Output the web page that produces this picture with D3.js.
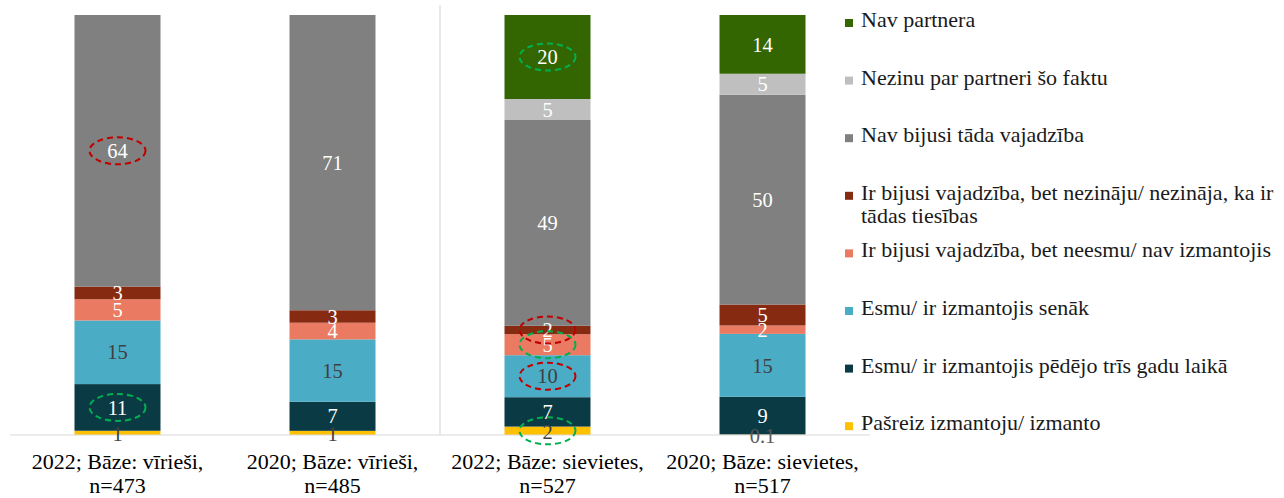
<!DOCTYPE html>
<html>
<head>
<meta charset="utf-8">
<script src="https://cdn.jsdelivr.net/npm/d3@7/dist/d3.min.js"></script>
<style>
  html, body { margin: 0; padding: 0; background: #fff; }
  svg { display: block; font-family: "Liberation Serif", "Times New Roman", "DejaVu Serif", serif; }
</style>
</head>
<body>
<svg id="chart" width="1284" height="498"></svg>
<script>
// ---- data ----
const categories = ["2022; Bāze: vīrieši,|n=473", "2020; Bāze: vīrieši,|n=485", "2022; Bāze: sievietes,|n=527", "2020; Bāze: sievietes,|n=517"];
const seriesNames = [
  "Pašreiz izmantoju/ izmanto",
  "Esmu/ ir izmantojis pēdējo trīs gadu laikā",
  "Esmu/ ir izmantojis senāk",
  "Ir bijusi vajadzība, bet neesmu/ nav izmantojis",
  "Ir bijusi vajadzība, bet nezināju/ nezināja, ka ir tādas tiesības",
  "Nav bijusi tāda vajadzība",
  "Nezinu par partneri šo faktu",
  "Nav partnera"
];
const pasreiz   = [1, 1, 2, 0.1];
const pedejo    = [11, 7, 7, 9];
const senak     = [15, 15, 10, 15];
const neesmu    = [5, 4, 5, 2];
const nezinaju  = [3, 3, 2, 5];
const navVajadz = [64, 71, 49, 50];
const nezinuPar = [null, null, 5, 5];
const navPartn  = [null, null, 20, 14];
const seriesValues = [pasreiz, pedejo, senak, neesmu, nezinaju, navVajadz, nezinuPar, navPartn];
// highlighted labels: [category index, series index, colour]
const highlights = [
  [0, 5, "#C00000"], [0, 1, "#00B050"],
  [2, 4, "#C00000"], [2, 3, "#00B050"], [2, 2, "#C00000"], [2, 0, "#00B050"], [2, 7, "#00B050"]
];

// ---- styles ----
const colors = ["#FFC000", "#0A3A44", "#4BACC6", "#EB7A62", "#872A12", "#808080", "#BFBFBF", "#336600"];
const labelColors = ["#404040", "#FFFFFF", "#404040", "#FFFFFF", "#FFFFFF", "#FFFFFF", "#FFFFFF", "#FFFFFF"];
const FS = 22, FS_LABEL = 20.5;

const rows = categories.map((c, i) => {
  const r = { cat: c };
  seriesNames.forEach((s, j) => r[s] = seriesValues[j][i] || 0);
  return r;
});

const svg = d3.select("#chart");
const x = d3.scaleBand().domain(categories).range([10, 870]).paddingInner(0.6).paddingOuter(0.3);
const y = d3.scaleLinear().domain([0, 1]).range([435, 15]);

const stack = d3.stack().keys(seriesNames).offset(d3.stackOffsetExpand);
const stacked = stack(rows);

// separator between men and women
const sepX = (x(categories[1]) + x.bandwidth() + x(categories[2])) / 2;
svg.append("line").attr("x1", sepX).attr("x2", sepX).attr("y1", 5).attr("y2", y(0))
  .attr("stroke", "#D9D9D9").attr("stroke-width", 1.2);

// bars
const layers = svg.append("g").selectAll("g").data(stacked).join("g")
  .attr("fill", (d, i) => colors[i]);
layers.selectAll("rect").data(d => d).join("rect")
  .attr("x", d => x(d.data.cat))
  .attr("width", x.bandwidth())
  .attr("y", d => y(d[1]))
  .attr("height", d => Math.max(0, y(d[0]) - y(d[1])));

// axis baseline
const xAxis = d3.axisBottom(x).tickSize(0).tickFormat("");
const ax = svg.append("g").attr("transform", `translate(0,${y(0)})`).call(xAxis);
ax.select(".domain").attr("stroke", "#D9D9D9").attr("stroke-width", 1.2).attr("d", `M10,0H870`);

// category labels
categories.forEach(c => {
  const lines = c.split("|");
  const cx = x(c) + x.bandwidth() / 2;
  const t = svg.append("text").attr("text-anchor", "middle").attr("font-size", FS).attr("fill", "#000");
  lines.forEach((l, i) => t.append("tspan").attr("x", cx).attr("y", 469 + i * 24).text(l));
});

// data labels
stacked.forEach((layer, si) => {
  layer.forEach((d, ci) => {
    const v = seriesValues[si][ci];
    if (v === null || v === undefined) return;
    const cy = (y(d[0]) + y(d[1])) / 2;
    let col = labelColors[si];
    if (si === 0 && v < 0.5) col = "#595959";
    svg.append("text")
      .attr("x", x(d.data.cat) + x.bandwidth() / 2)
      .attr("y", cy + (si === 0 ? 1 : 0))
      .attr("dy", "0.35em")
      .attr("text-anchor", "middle")
      .attr("font-size", FS_LABEL)
      .attr("fill", col)
      .text(String(v));
  });
});

// highlight ellipses
highlights.forEach(([ci, si, col]) => {
  const d = stacked[si][ci];
  const cx = x(d.data.cat) + x.bandwidth() / 2;
  const cy = (y(d[0]) + y(d[1])) / 2;
  svg.append("ellipse").attr("cx", cx).attr("cy", cy).attr("rx", 28).attr("ry", 13.5)
    .attr("fill", "none").attr("stroke", col).attr("stroke-width", 2).attr("stroke-dasharray", "6,4");
});

// legend
const legendOrder = seriesNames.map((s, i) => i).reverse();
const legend = svg.append("g");
const legendY0 = 20, legendStep = 57.6;
legendOrder.forEach((si, k) => {
  const ly = legendY0 + k * legendStep;
  legend.append("rect").attr("x", 845).attr("y", ly - 1).attr("width", 8).attr("height", 8).attr("fill", colors[si]);
  const t = legend.append("text").attr("font-size", FS).attr("fill", "#1a1a1a");
  const words = seriesNames[si].split(" ");
  let line = [], lines = [];
  const maxW = 420;
  const probe = legend.append("text").attr("font-size", FS);
  words.forEach(w => {
    const test = line.concat([w]).join(" ");
    probe.text(test);
    if (probe.node().getComputedTextLength() > maxW && line.length) {
      lines.push(line.join(" "));
      line = [w];
    } else line.push(w);
  });
  lines.push(line.join(" "));
  probe.remove();
  lines.forEach((l, i) => t.append("tspan").attr("x", 861).attr("y", ly + 7 + i * 23).text(l));
});
</script>
</body>
</html>
